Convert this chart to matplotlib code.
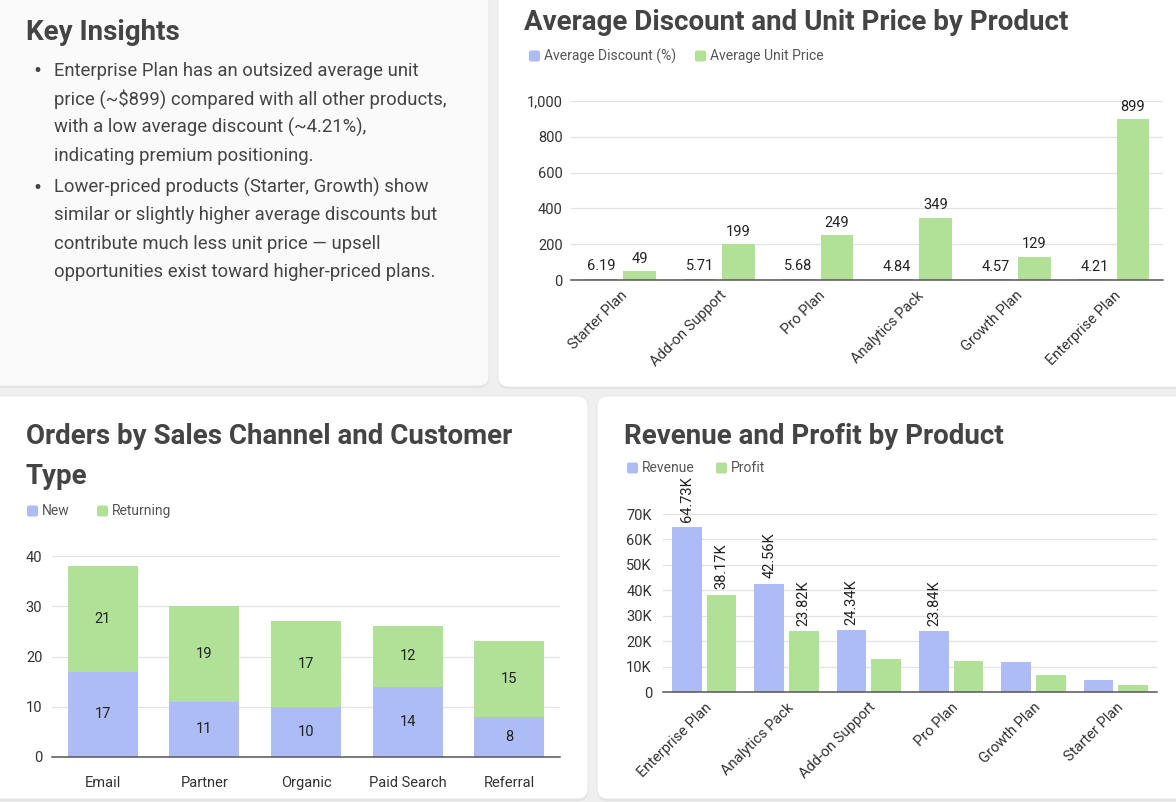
import matplotlib
matplotlib.use("Agg")
import matplotlib.pyplot as plt
from matplotlib.patches import FancyBboxPatch
from matplotlib.ticker import FuncFormatter

plt.rcParams['font.family'] = ['Roboto', 'DejaVu Sans']

W, H = 1176, 802
BLUE = '#adbcf4'
GREEN = '#b1e196'
TITLE_C = '#444444'
TEXT_C = '#444444'
GRID_C = '#e3e3e3'

# --- data ---
disc_products = ['Starter Plan', 'Add-on Support', 'Pro Plan', 'Analytics Pack', 'Growth Plan', 'Enterprise Plan']
avg_discount = [6.19, 5.71, 5.68, 4.84, 4.57, 4.21]
avg_price = [49, 199, 249, 349, 129, 899]
disc_series = ['Average Discount (%)', 'Average Unit Price']

channels = ['Email', 'Partner', 'Organic', 'Paid Search', 'Referral']
new_orders = [17, 11, 10, 14, 8]
returning_orders = [21, 19, 17, 12, 15]
order_series = ['New', 'Returning']

rev_products = ['Enterprise Plan', 'Analytics Pack', 'Add-on Support', 'Pro Plan', 'Growth Plan', 'Starter Plan']
revenue = [64730, 42560, 24340, 23840, 11800, 4700]
profit = [38170, 23820, 13000, 12000, 6500, 2600]
rev_labels = ['64.73K', '42.56K', '24.34K', '23.84K', None, None]
profit_labels = ['38.17K', '23.82K', None, None, None, None]
rev_series = ['Revenue', 'Profit']

insights = [
    ["Enterprise Plan has an outsized average unit",
     "price (~$899) compared with all other products,",
     "with a low average discount (~4.21%),",
     "indicating premium positioning."],
    ["Lower-priced products (Starter, Growth) show",
     "similar or slightly higher average discounts but",
     "contribute much less unit price \u2014 upsell",
     "opportunities exist toward higher-priced plans."],
]

fig = plt.figure(figsize=(W / 100, H / 100), dpi=100)
fig.patch.set_facecolor('#efefef')

# background layer in pixel coords
bg = fig.add_axes([0, 0, 1, 1])
bg.set_xlim(0, W)
bg.set_ylim(H, 0)
bg.axis('off')

def card(x0, y0, x1, y1, color='white'):
    shadow = FancyBboxPatch((x0, y0 + 2), x1 - x0, y1 - y0, boxstyle='round,pad=0,rounding_size=10',
                            fc='#e2e2e2', ec='none', zorder=0)
    bg.add_patch(shadow)
    bg.add_patch(FancyBboxPatch((x0, y0), x1 - x0, y1 - y0, boxstyle='round,pad=0,rounding_size=10',
                                fc=color, ec='#e8e8e8', lw=0.8, zorder=1))

card(-20, -20, 489, 386, '#fafafa')
card(498, -20, 1196, 387)
card(-20, 396, 588, 799)
card(597, 396, 1196, 799)

def title(x, y, s):
    bg.text(x, y, s, fontsize=20, fontweight='bold', color=TITLE_C, va='center', ha='left', zorder=3)

def legend(x, y, names, gap):
    xx = x
    for name, col in zip(names, [BLUE, GREEN]):
        bg.add_patch(FancyBboxPatch((xx, y - 5.5), 11, 11, boxstyle='round,pad=0,rounding_size=2',
                                    fc=col, ec='none', zorder=3))
        bg.text(xx + 15, y, name, fontsize=10, color='#555555', va='center', ha='left', zorder=3)
        xx += gap[names.index(name)]

# Key insights
title(26, 32, 'Key Insights')
ly = 71
for para in insights:
    bg.text(37, ly + 1, '\u2022', fontsize=17, color=TEXT_C, va='center', ha='center', zorder=3)
    for line in para:
        bg.text(54, ly, line, fontsize=13.3, color=TEXT_C, va='center', ha='left', zorder=3)
        ly += 28.2
    ly += 3.5

title(524, 22, 'Average Discount and Unit Price by Product')
legend(529, 56, disc_series, [166, 0])
title(26, 436, 'Orders by Sales Channel and Customer')
title(26, 477, 'Type')
legend(27, 511, order_series, [70, 0])
title(624, 436, 'Revenue and Profit by Product')
legend(627, 468, rev_series, [89, 0])

def px_axes(left, right, top, bottom):
    return fig.add_axes([left / W, 1 - bottom / H, (right - left) / W, (bottom - top) / H])

def style(ax):
    ax.set_facecolor('none')
    for s in ['top', 'right', 'left']:
        ax.spines[s].set_visible(False)
    ax.spines['bottom'].set_color('#555555')
    ax.spines['bottom'].set_linewidth(1.1)
    ax.grid(axis='y', color=GRID_C, lw=0.9)
    ax.set_axisbelow(True)
    ax.tick_params(length=0, labelsize=10.5, colors='#333333')
    ax.tick_params(axis='y', pad=8)

# --- top right: discount & price ---
ax1 = px_axes(571, 1163, 101, 280)
style(ax1)
x = range(len(disc_products))
b1 = ax1.bar([i - 0.195 for i in x], avg_discount, width=0.33, color=BLUE, zorder=2)
b2 = ax1.bar([i + 0.195 for i in x], avg_price, width=0.33, color=GREEN, zorder=2)
ax1.bar_label(b1, labels=[f'{v:.2f}' for v in avg_discount], padding=4, fontsize=10.5, color='#222222')
ax1.bar_label(b2, labels=[f'{v}' for v in avg_price], padding=4, fontsize=10.5, color='#222222')
ax1.set_xlim(-0.5, len(disc_products) - 0.5)
ax1.set_ylim(0, 1000)
ax1.set_yticks([0, 200, 400, 600, 800, 1000])
ax1.yaxis.set_major_formatter(FuncFormatter(lambda v, p: f'{int(v):,}'))
ax1.set_xticks(list(x))
ax1.set_xticklabels(disc_products, rotation=45, ha='right', rotation_mode='anchor')
ax1.tick_params(axis='x', pad=6)
ax1.tick_params(axis='y', pad=6)

# --- bottom left: stacked orders ---
ax2 = px_axes(52, 560, 556, 757)
style(ax2)
x2 = range(len(channels))
s1 = ax2.bar(x2, new_orders, width=0.69, color=BLUE, zorder=2)
s2 = ax2.bar(x2, returning_orders, width=0.69, bottom=new_orders, color=GREEN, zorder=2)
ax2.bar_label(s1, label_type='center', fontsize=10.5, color='#222222')
ax2.bar_label(s2, label_type='center', fontsize=10.5, color='#222222')
ax2.set_xlim(-0.5, len(channels) - 0.5)
ax2.set_ylim(0, 40)
ax2.set_yticks([0, 10, 20, 30, 40])
ax2.set_xticks(list(x2))
ax2.set_xticklabels(channels)
ax2.tick_params(axis='x', pad=14)
ax2.tick_params(axis='y', pad=7)

# --- bottom right: revenue & profit ---
ax3 = px_axes(663, 1157, 514, 692)
style(ax3)
x3 = range(len(rev_products))
r1 = ax3.bar([i - 0.21 for i in x3], revenue, width=0.36, color=BLUE, zorder=2)
r2 = ax3.bar([i + 0.21 for i in x3], profit, width=0.36, color=GREEN, zorder=2)
ax3.bar_label(r1, labels=[l or '' for l in rev_labels], rotation=90, padding=4, fontsize=10.5, color='#222222')
ax3.bar_label(r2, labels=[l or '' for l in profit_labels], rotation=90, padding=4, fontsize=10.5, color='#222222')
ax3.set_xlim(-0.5, len(rev_products) - 0.5)
ax3.set_ylim(0, 70000)
ax3.set_yticks(range(0, 70001, 10000))
ax3.yaxis.set_major_formatter(FuncFormatter(lambda v, p: '0' if v == 0 else f'{int(v / 1000)}K'))
ax3.set_xticks(list(x3))
ax3.set_xticklabels(rev_products, rotation=45, ha='right', rotation_mode='anchor')
ax3.tick_params(axis='x', pad=6)

fig.savefig('out.png', dpi=100)
